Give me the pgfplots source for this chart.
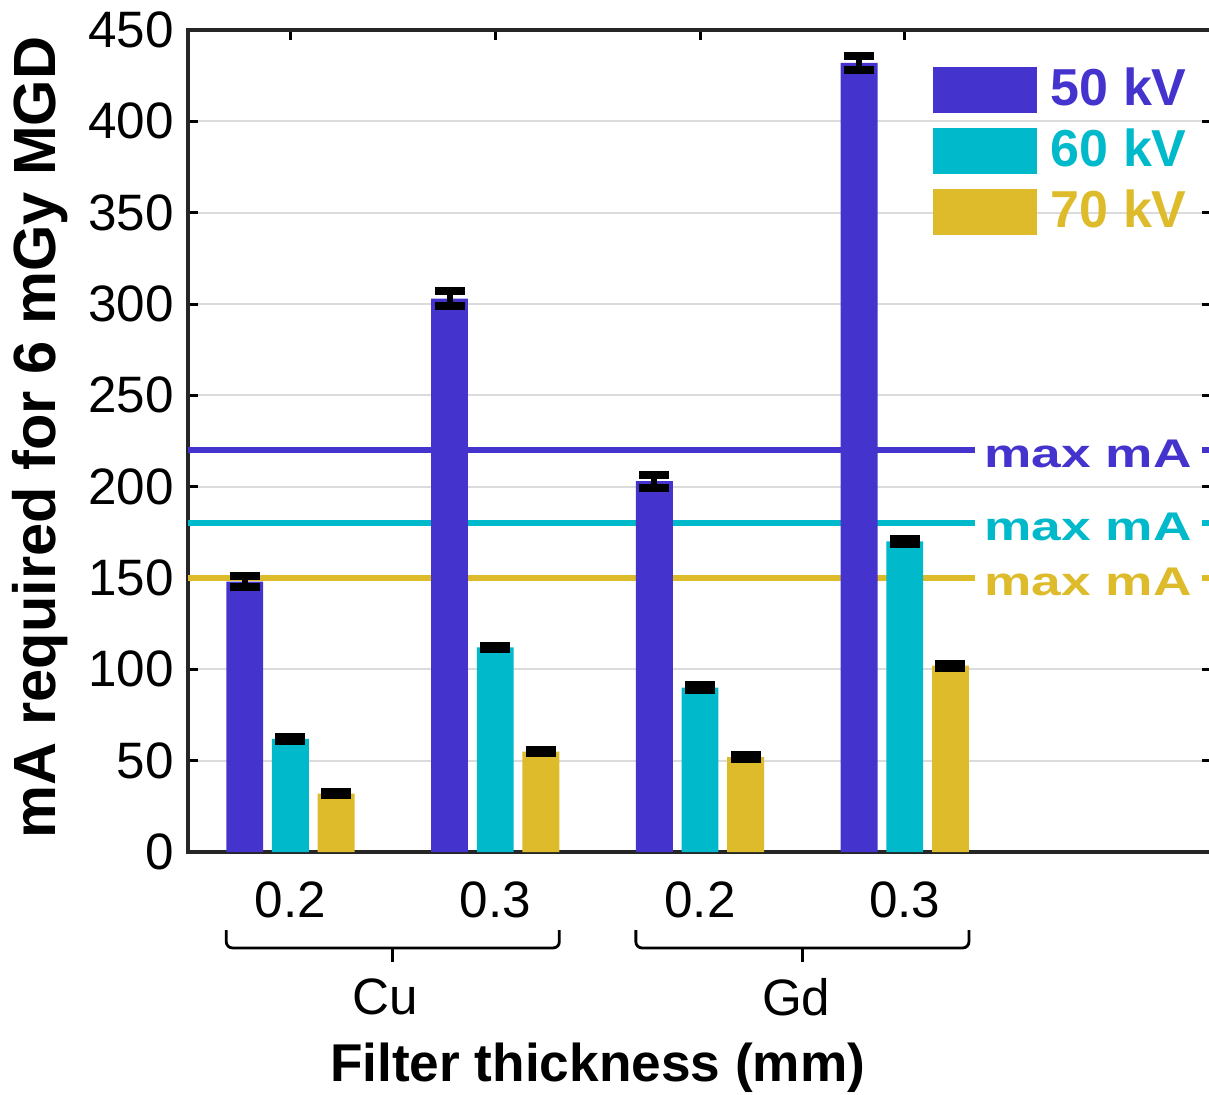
\documentclass[border=0pt]{standalone}
\usepackage{pgfplots}
\pgfplotsset{compat=1.18}
\usepackage{fontspec}
\setmainfont{Liberation Sans}
\usepackage{graphicx}
\definecolor{c50}{HTML}{4433CC}
\definecolor{c60}{HTML}{00B9CA}
\definecolor{c70}{HTML}{DDBB2B}
\begin{document}
\begin{tikzpicture}
\begin{axis}[
  scale only axis, width=256pt, height=205.5pt,
  xmin=0.5, xmax=5.5, ymin=0, ymax=450,
  xtick={1,2,3,4}, xticklabels={0.2,0.3,0.2,0.3},
  ytick={0,50,...,450},
  tick align=inside, major tick length=2.5pt,
  tick style={line width=0.75pt, black},
  axis line style={line width=0.8pt, black!85},
  ymajorgrids, major grid style={line width=0.5pt, black!14},
  tick label style={font=\fontsize{12.8}{13}\selectfont, /pgf/number format/assume math mode=true},
  xticklabel style={yshift=-4pt},
  clip=false,
  legend style={draw=none, fill=none, at={(0.7266,0.956)}, anchor=north west,
    inner sep=0pt, row sep=3.75pt, column sep=3.5pt, nodes={inner sep=0pt},
    font=\bfseries\fontsize{13}{13}\selectfont},
  legend cell align=left,
  error bars/error bar style={line width=1.5pt, black},
  error bars/error mark options={rotate=90, mark size=3.75pt, line width=2pt, black},
]
% max mA lines (behind bars)
\addplot[c50, line width=1.5pt, forget plot] coordinates {(0.5,220) (5.5,220)};
\addplot[c60, line width=1.5pt, forget plot] coordinates {(0.5,180) (5.5,180)};
\addplot[c70, line width=1.5pt, forget plot] coordinates {(0.5,150) (5.5,150)};

% 50 kV (bars placed at category - 0.223)
\addplot[ybar, bar width=0.18, bar shift=0, fill=c50, draw=none,
  legend image code/.code={\fill[c50] (0pt,-5.75pt) rectangle (26pt,5.75pt);},
  error bars/.cd, y dir=both, y explicit]
  coordinates {(0.777,148) +- (0,3) (1.777,303) +- (0,4) (2.777,203) +- (0,3.5) (3.777,432) +- (0,4)};
% 60 kV (at category)
\addplot[ybar, bar width=0.18, bar shift=0, fill=c60, draw=none,
  legend image code/.code={\fill[c60] (0pt,-5.75pt) rectangle (26pt,5.75pt);},
  error bars/.cd, y dir=both, y explicit]
  coordinates {(1,62) +- (0,1) (2,112) +- (0,1) (3,90) +- (0,1.3) (4,170) +- (0,1.5)};
% 70 kV (at category + 0.223)
\addplot[ybar, bar width=0.18, bar shift=0, fill=c70, draw=none,
  legend image code/.code={\fill[c70] (0pt,-5.75pt) rectangle (26pt,5.75pt);},
  error bars/.cd, y dir=both, y explicit]
  coordinates {(1.223,32) +- (0,0.8) (2.223,55) +- (0,1) (3.223,52) +- (0,1) (4.223,102) +- (0,1)};
\legend{\textcolor{c50}{50 kV},\textcolor{c60}{60 kV},\textcolor{c70}{70 kV}}

% max mA labels
\node[fill=white, inner xsep=2.5pt, inner ysep=1pt, text=c50, font=\bfseries\fontsize{10}{10}\selectfont, yshift=-1pt] at (axis cs:4.895,220) {\scalebox{1.33}[1]{max mA}};
\node[fill=white, inner xsep=2.5pt, inner ysep=1pt, text=c60, font=\bfseries\fontsize{10}{10}\selectfont, yshift=-1pt] at (axis cs:4.895,180) {\scalebox{1.33}[1]{max mA}};
\node[fill=white, inner xsep=2.5pt, inner ysep=1pt, text=c70, font=\bfseries\fontsize{10}{10}\selectfont, yshift=-1pt] at (axis cs:4.895,150) {\scalebox{1.33}[1]{max mA}};

% braces
\draw[line width=0.7pt, rounded corners=1.5pt] (axis cs:0.687,-42.7) -- (axis cs:0.687,-52.5) -- (axis cs:2.313,-52.5) -- (axis cs:2.313,-42.7);
\draw[line width=0.7pt] (axis cs:1.5,-52.5) -- (axis cs:1.5,-60.2);
\draw[line width=0.7pt, rounded corners=1.5pt] (axis cs:2.687,-42.7) -- (axis cs:2.687,-52.5) -- (axis cs:4.313,-52.5) -- (axis cs:4.313,-42.7);
\draw[line width=0.7pt] (axis cs:3.5,-52.5) -- (axis cs:3.5,-60.2);
\node[font=\fontsize{12.8}{13}\selectfont] at (axis cs:1.464,-79.4) {Cu};
\node[font=\fontsize{12.8}{13}\selectfont] at (axis cs:3.47,-79.4) {Gd};

% axis labels
\node[font=\bfseries\fontsize{13.3}{14}\selectfont] at (axis cs:2.5,-118.2) {Filter thickness (mm)};
\node[rotate=90, font=\bfseries\fontsize{14.9}{15}\selectfont] at (axis cs:-0.2227,227) {mA required for 6 mGy MGD};
\end{axis}
\pgfresetboundingbox
\path[use as bounding box] (-47pt,-60.5pt) rectangle (255.25pt,213pt);
\end{tikzpicture}
\end{document}
